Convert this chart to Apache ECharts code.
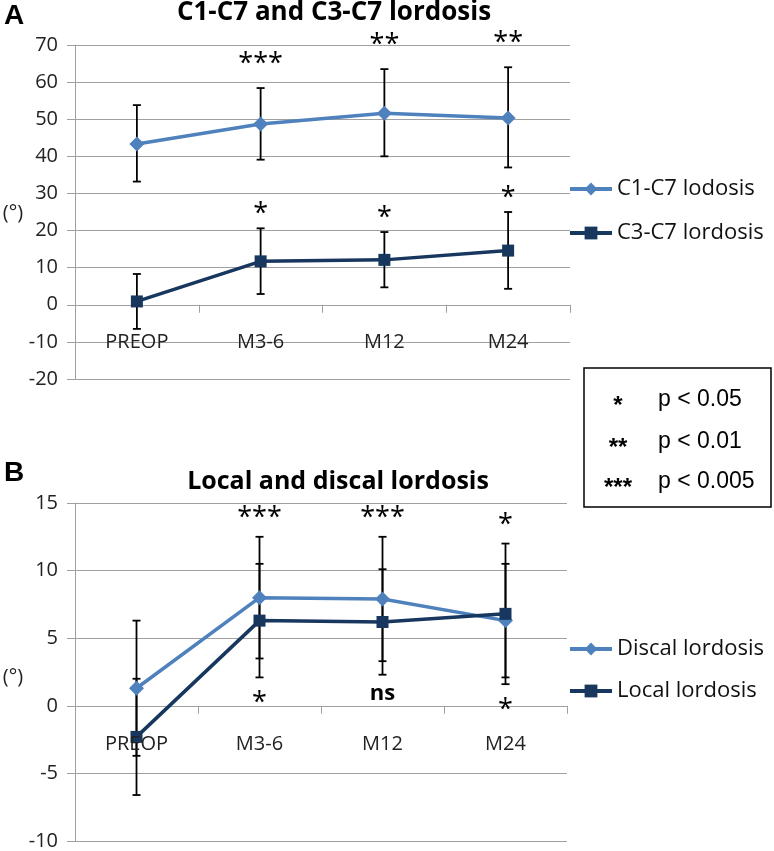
<!DOCTYPE html>
<html><head><meta charset="utf-8">
<script src="https://cdn.jsdelivr.net/npm/echarts@6/dist/echarts.min.js"></script>
<style>html,body{margin:0;padding:0;background:#fff}#c{width:774px;height:851px}</style>
</head><body><div id="c"></div>
<script>
const categories = ['PREOP', 'M3-6', 'M12', 'M24'];

const c1c7Mean = [43.3, 48.7, 51.6, 50.3];
const c1c7Low  = [33.2, 39.1, 40.0, 37.0];
const c1c7High = [53.8, 58.4, 63.5, 64.0];

const c3c7Mean = [0.9, 11.7, 12.1, 14.6];
const c3c7Low  = [-6.5, 2.9, 4.7, 4.3];
const c3c7High = [8.3, 20.6, 19.6, 25.0];

const discalMean = [1.3, 8.0, 7.9, 6.3];
const discalLow  = [-3.7, 3.5, 3.3, 2.1];
const discalHigh = [6.3, 12.5, 12.5, 10.5];

const localMean = [-2.3, 6.3, 6.2, 6.8];
const localLow  = [-6.6, 2.1, 2.3, 1.6];
const localHigh = [2.0, 10.5, 10.1, 12.0];

const sigC1C7 = ['', '***', '**', '**'];
const sigC3C7 = ['', '*', '*', '*'];
const sigTopB = ['', '***', '***', '*'];
const sigBottomB = ['', '*', 'ns', '*'];

const yAxisA = { min: -20, max: 70, interval: 10 };
const yAxisB = { min: -10, max: 15, interval: 5 };

const seriesNames = ['C1-C7 lodosis', 'C3-C7 lordosis', 'Discal lordosis', 'Local lordosis'];
const pLegendStars = ['*', '**', '***'];
const pLegendText = ['p < 0.05', 'p < 0.01', 'p < 0.005'];

const LIGHT = '#4F81BD', DARK = '#17375E', GRID = '#A0A0A0', FONT = 'Open Sans';

function errData(low, high) { return categories.map((c, i) => [i, low[i], high[i]]); }

function errRender(params, api) {
  const x = api.value(0), lo = api.value(1), hi = api.value(2);
  const p1 = api.coord([x, hi]), p2 = api.coord([x, lo]);
  const w = 4;
  const st = { stroke: '#000', lineWidth: 1.8 };
  return { type: 'group', children: [
    { type: 'line', shape: { x1: p1[0], y1: p1[1], x2: p2[0], y2: p2[1] }, style: st },
    { type: 'line', shape: { x1: p1[0] - w, y1: p1[1], x2: p1[0] + w, y2: p1[1] }, style: st },
    { type: 'line', shape: { x1: p2[0] - w, y1: p2[1], x2: p2[0] + w, y2: p2[1] }, style: st }
  ]};
}

function txtStyle(t, size, weight, color) {
  return { text: t, fill: color || '#000', fontFamily: FONT, fontSize: size, fontWeight: weight || 'normal',
    align: 'center', verticalAlign: 'middle', textAlign: 'center', textVerticalAlign: 'middle' };
}

function starSeries(xi, yi, labels, anchorVals, offset) {
  return {
    type: 'custom', xAxisIndex: xi, yAxisIndex: yi, z: 5, silent: true,
    data: categories.map((c, i) => [i, anchorVals[i]]),
    encode: { x: 0, y: 1 },
    renderItem: function (params, api) {
      const t = labels[params.dataIndex];
      const p = api.coord([api.value(0), api.value(1)]);
      const isStar = t.indexOf('*') >= 0;
      return { type: 'text', x: p[0], y: p[1] + offset + (isStar ? 7 : 0),
        style: txtStyle(t, isStar ? 27 : 22, isStar ? 'normal' : 'bold') };
    }
  };
}

// category labels placed next to the zero line (axis crosses at 0)
function catLabelSeries(xi, yi) {
  return {
    type: 'custom', xAxisIndex: xi, yAxisIndex: yi, z: 5, silent: true,
    data: categories.map((c, i) => [i, 0]),
    encode: { x: 0, y: 1 },
    renderItem: function (params, api) {
      const p = api.coord([api.value(0), 0]);
      return { type: 'text', x: p[0], y: p[1] + 38, style: txtStyle(categories[params.dataIndex], 20, 'normal', '#222') };
    }
  };
}

function maxArr(a, b) { return a.map((v, i) => Math.max(v, b[i])); }
function minArr(a, b) { return a.map((v, i) => Math.min(v, b[i])); }

function xAx(gi) {
  return {
    type: 'category', gridIndex: gi, data: categories, boundaryGap: true,
    axisLine: { onZero: true, lineStyle: { color: GRID, width: 1 } },
    axisTick: { show: true, length: 8, lineStyle: { color: GRID } },
    axisLabel: { show: false },
    splitLine: { show: false }
  };
}
function yAx(gi, cfg) {
  return {
    type: 'value', gridIndex: gi, min: cfg.min, max: cfg.max, interval: cfg.interval,
    axisLine: { show: true, lineStyle: { color: GRID, width: 1 } },
    axisTick: { show: true, length: 8, lineStyle: { color: GRID } },
    axisLabel: { margin: 17, fontFamily: FONT, fontSize: 20, color: '#222' },
    splitLine: { show: true, lineStyle: { color: GRID, width: 1 } }
  };
}

function lineSeries(name, xi, yi, data, color, symbol, size) {
  return {
    name, type: 'line', xAxisIndex: xi, yAxisIndex: yi, data, z: 4,
    symbol, symbolSize: size, showSymbol: true,
    lineStyle: { color, width: 3.5 }, itemStyle: { color },
    emphasis: { disabled: true }, silent: true
  };
}

const chart = echarts.init(document.getElementById('c'), null, { renderer: 'canvas' });

const graphics = [
  { type: 'text', x: 4, y: 2, style: { text: 'A', fontFamily: 'Liberation Sans', fontWeight: 'bold', fontSize: 28, fill: '#000' } },
  { type: 'text', x: 4, y: 459, style: { text: 'B', fontFamily: 'Liberation Sans', fontWeight: 'bold', fontSize: 28, fill: '#000' } },
  { type: 'text', x: 334, y: 13, style: txtStyle('C1-C7 and C3-C7 lordosis', 26, 'bold') },
  { type: 'text', x: 338, y: 482, style: txtStyle('Local and discal lordosis', 25, 'bold') },
  { type: 'text', x: 13, y: 213, style: txtStyle('(°)', 20, 'normal', '#222') },
  { type: 'text', x: 13, y: 677, style: txtStyle('(°)', 20, 'normal', '#222') },
  { type: 'rect', shape: { x: 584, y: 368, width: 187, height: 139 }, style: { fill: '#fff', stroke: '#000', lineWidth: 1.5 } }
];
const rowY = [400, 442, 482];
pLegendStars.forEach((s, i) => {
  graphics.push({ type: 'text', x: 618, y: rowY[i] + 6, style: { text: s, fontFamily: 'Liberation Sans', fontWeight: 'bold', fontSize: 24, fill: '#000', align: 'center', verticalAlign: 'middle', textAlign: 'center', textVerticalAlign: 'middle' } });
  graphics.push({ type: 'text', x: 658, y: rowY[i], style: { text: pLegendText[i], fontFamily: 'Liberation Sans', fontSize: 23, fill: '#000', align: 'left', verticalAlign: 'middle', textAlign: 'left', textVerticalAlign: 'middle' } });
});

const legendText = { fontFamily: FONT, fontSize: 22, color: '#111' };
const legendCommon = { orient: 'vertical', left: 563, itemWidth: 42, itemHeight: 16, itemGap: 22,
  textStyle: legendText, selectedMode: false, lineStyle: { width: 4 } };

chart.setOption({
  animation: false,
  backgroundColor: '#fff',
  grid: [
    { left: 75, top: 45, width: 495, height: 334 },
    { left: 75, top: 503, width: 492, height: 340 }
  ],
  xAxis: [xAx(0), xAx(1)],
  yAxis: [yAx(0, yAxisA), yAx(1, yAxisB)],
  legend: [
    Object.assign({ data: [seriesNames[0], seriesNames[1]], top: 173 }, legendCommon),
    Object.assign({ data: [seriesNames[2], seriesNames[3]], top: 633, itemGap: 20 }, legendCommon, { itemGap: 20 })
  ],
  graphic: graphics,
  series: [
    { type: 'custom', xAxisIndex: 0, yAxisIndex: 0, z: 2, silent: true, data: errData(c1c7Low, c1c7High), encode: { x: 0, y: [1, 2] }, renderItem: errRender },
    { type: 'custom', xAxisIndex: 0, yAxisIndex: 0, z: 2, silent: true, data: errData(c3c7Low, c3c7High), encode: { x: 0, y: [1, 2] }, renderItem: errRender },
    { type: 'custom', xAxisIndex: 1, yAxisIndex: 1, z: 2, silent: true, data: errData(discalLow, discalHigh), encode: { x: 0, y: [1, 2] }, renderItem: errRender },
    { type: 'custom', xAxisIndex: 1, yAxisIndex: 1, z: 2, silent: true, data: errData(localLow, localHigh), encode: { x: 0, y: [1, 2] }, renderItem: errRender },
    lineSeries(seriesNames[0], 0, 0, c1c7Mean, LIGHT, 'diamond', 15),
    lineSeries(seriesNames[1], 0, 0, c3c7Mean, DARK, 'rect', 12),
    lineSeries(seriesNames[2], 1, 1, discalMean, LIGHT, 'diamond', 15),
    lineSeries(seriesNames[3], 1, 1, localMean, DARK, 'rect', 12),
    starSeries(0, 0, sigC1C7, c1c7High, -31),
    starSeries(0, 0, sigC3C7, c3c7High, -21),
    starSeries(1, 1, sigTopB, maxArr(discalHigh, localHigh), -25),
    starSeries(1, 1, sigBottomB, minArr(discalLow, localLow), 19),
    catLabelSeries(0, 0),
    catLabelSeries(1, 1)
  ]
});
</script></body></html>
